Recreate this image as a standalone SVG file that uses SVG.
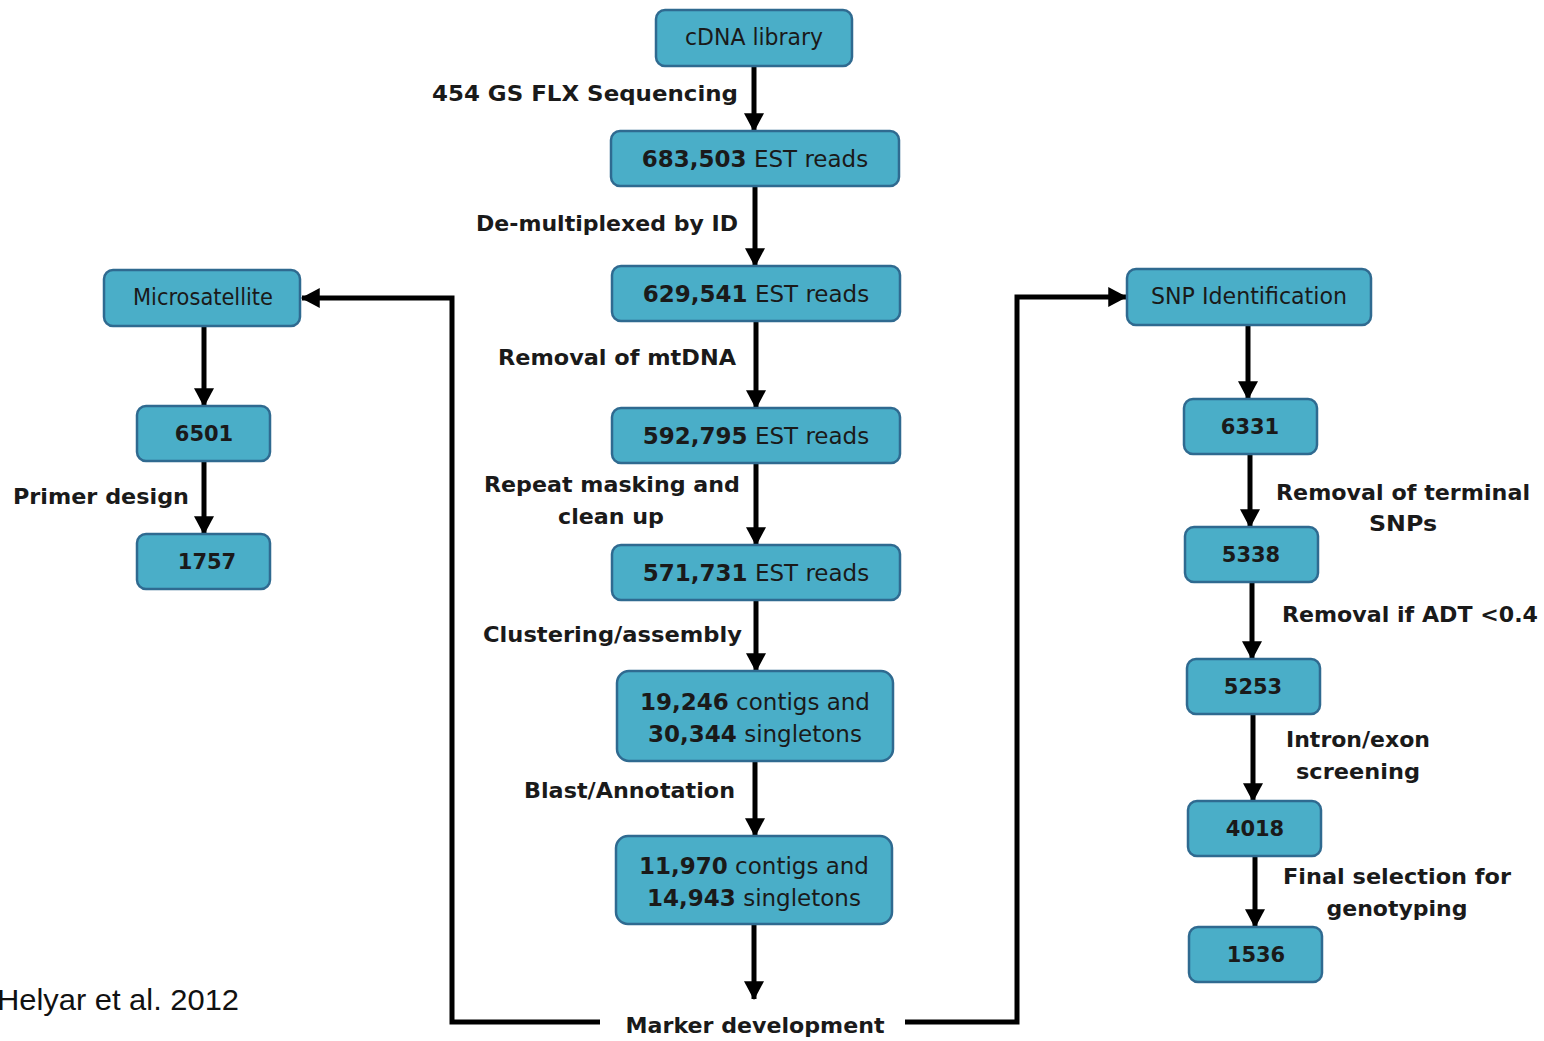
<svg xmlns="http://www.w3.org/2000/svg" width="1544" height="1041" viewBox="0 0 1544 1041">
<style>
.box{fill:#4aaec8;stroke:#2f6a90;stroke-width:2.5}
.bt{font-family:"DejaVu Sans",Verdana,sans-serif;font-size:23px;fill:#1a1a1a;text-anchor:middle}
.b{font-weight:bold}
.num{font-size:21px}
.lbl{font-family:"DejaVu Sans",Verdana,sans-serif;font-size:22px;font-weight:bold;fill:#1a1a1a}
.conn{fill:none;stroke:#000;stroke-width:5}
</style>
<defs>
<marker id="ah" markerUnits="userSpaceOnUse" markerWidth="20" markerHeight="20" refX="16" refY="9" orient="auto" viewBox="0 0 18 18">
<path d="M0,0 L17,9 L0,18 Z" fill="#000"/>
</marker>
</defs>
<rect width="1544" height="1041" fill="#fff"/>
<g id="connectors">
<path class="conn" d="M754,66 V131" marker-end="url(#ah)"/>
<path class="conn" d="M755,186 V266" marker-end="url(#ah)"/>
<path class="conn" d="M756,321 V408" marker-end="url(#ah)"/>
<path class="conn" d="M756,463 V545" marker-end="url(#ah)"/>
<path class="conn" d="M756,600 V671" marker-end="url(#ah)"/>
<path class="conn" d="M755,761 V836" marker-end="url(#ah)"/>
<path class="conn" d="M754,924 V999" marker-end="url(#ah)"/>
<path class="conn" d="M204,326 V406" marker-end="url(#ah)"/>
<path class="conn" d="M204,461 V534" marker-end="url(#ah)"/>
<path class="conn" d="M1248,325 V399" marker-end="url(#ah)"/>
<path class="conn" d="M1250,454 V527" marker-end="url(#ah)"/>
<path class="conn" d="M1252,582 V659" marker-end="url(#ah)"/>
<path class="conn" d="M1253,714 V801" marker-end="url(#ah)"/>
<path class="conn" d="M1255,856 V927" marker-end="url(#ah)"/>
<path class="conn" d="M600,1022 H452 V298 H302" marker-end="url(#ah)"/>
<path class="conn" d="M905,1022 H1017 V297 H1126" marker-end="url(#ah)"/>
</g>
<g id="n-cdna"><rect class="box" x="656" y="10" width="196" height="56" rx="9"/><text class="bt" x="754" y="45" font-size="22" textLength="138" lengthAdjust="spacingAndGlyphs">cDNA library</text></g>
<g id="n-683"><rect class="box" x="611" y="131" width="288" height="55" rx="9"/><text class="bt" x="755" y="167"><tspan class="b">683,503</tspan> EST reads</text></g>
<g id="n-629"><rect class="box" x="612" y="266" width="288" height="55" rx="9"/><text class="bt" x="756" y="302"><tspan class="b">629,541</tspan> EST reads</text></g>
<g id="n-592"><rect class="box" x="612" y="408" width="288" height="55" rx="9"/><text class="bt" x="756" y="444"><tspan class="b">592,795</tspan> EST reads</text></g>
<g id="n-571"><rect class="box" x="612" y="545" width="288" height="55" rx="9"/><text class="bt" x="756" y="581"><tspan class="b">571,731</tspan> EST reads</text></g>
<g id="n-19246"><rect class="box" x="617" y="671" width="276" height="90" rx="12"/><text class="bt" x="755" y="710"><tspan class="b">19,246</tspan> contigs and</text><text class="bt" x="755" y="742"><tspan class="b">30,344</tspan> singletons</text></g>
<g id="n-11970"><rect class="box" x="616" y="836" width="276" height="88" rx="12"/><text class="bt" x="754" y="874"><tspan class="b">11,970</tspan> contigs and</text><text class="bt" x="754" y="906"><tspan class="b">14,943</tspan> singletons</text></g>
<g id="n-micro"><rect class="box" x="104" y="270" width="196" height="56" rx="9"/><text class="bt" x="203" y="305" font-size="22" textLength="140" lengthAdjust="spacingAndGlyphs">Microsatellite</text></g>
<g id="n-6501"><rect class="box" x="137" y="406" width="133" height="55" rx="9"/><text class="bt b num" x="204" y="441">6501</text></g>
<g id="n-1757"><rect class="box" x="137" y="534" width="133" height="55" rx="9"/><text class="bt b num" x="207" y="569">1757</text></g>
<g id="n-snp"><rect class="box" x="1127" y="269" width="244" height="56" rx="9"/><text class="bt" x="1249" y="304" font-size="22" textLength="196" lengthAdjust="spacingAndGlyphs">SNP Identification</text></g>
<g id="n-6331"><rect class="box" x="1184" y="399" width="133" height="55" rx="9"/><text class="bt b num" x="1250" y="434">6331</text></g>
<g id="n-5338"><rect class="box" x="1185" y="527" width="133" height="55" rx="9"/><text class="bt b num" x="1251" y="562">5338</text></g>
<g id="n-5253"><rect class="box" x="1187" y="659" width="133" height="55" rx="9"/><text class="bt b num" x="1253" y="694">5253</text></g>
<g id="n-4018"><rect class="box" x="1188" y="801" width="133" height="55" rx="9"/><text class="bt b num" x="1255" y="836">4018</text></g>
<g id="n-1536"><rect class="box" x="1189" y="927" width="133" height="55" rx="9"/><text class="bt b num" x="1256" y="962">1536</text></g>
<g id="n-marker"><text class="lbl" x="755" y="1033" text-anchor="middle" textLength="259" lengthAdjust="spacingAndGlyphs">Marker development</text></g>
<g id="labels">
<text class="lbl" x="738" y="101" text-anchor="end" textLength="306" lengthAdjust="spacingAndGlyphs">454 GS FLX Sequencing</text>
<text class="lbl" x="738" y="231" text-anchor="end" textLength="262" lengthAdjust="spacingAndGlyphs">De-multiplexed by ID</text>
<text class="lbl" x="736" y="365" text-anchor="end" textLength="238" lengthAdjust="spacingAndGlyphs">Removal of mtDNA</text>
<text class="lbl" x="740" y="492" text-anchor="end" textLength="256" lengthAdjust="spacingAndGlyphs">Repeat masking and</text>
<text class="lbl" x="611" y="524" text-anchor="middle" textLength="106" lengthAdjust="spacingAndGlyphs">clean up</text>
<text class="lbl" x="742" y="642" text-anchor="end" textLength="259" lengthAdjust="spacingAndGlyphs">Clustering/assembly</text>
<text class="lbl" x="735" y="798" text-anchor="end" textLength="211" lengthAdjust="spacingAndGlyphs">Blast/Annotation</text>
<text class="lbl" x="189" y="504" text-anchor="end" textLength="176" lengthAdjust="spacingAndGlyphs">Primer design</text>
<text class="lbl" x="1403" y="500" text-anchor="middle" textLength="254" lengthAdjust="spacingAndGlyphs">Removal of terminal</text>
<text class="lbl" x="1403" y="531" text-anchor="middle" textLength="68" lengthAdjust="spacingAndGlyphs">SNPs</text>
<text class="lbl" x="1282" y="622" textLength="256" lengthAdjust="spacingAndGlyphs">Removal if ADT &lt;0.4</text>
<text class="lbl" x="1358" y="747" text-anchor="middle" textLength="144" lengthAdjust="spacingAndGlyphs">Intron/exon</text>
<text class="lbl" x="1358" y="779" text-anchor="middle" textLength="124" lengthAdjust="spacingAndGlyphs">screening</text>
<text class="lbl" x="1397" y="884" text-anchor="middle" textLength="228" lengthAdjust="spacingAndGlyphs">Final selection for</text>
<text class="lbl" x="1397" y="916" text-anchor="middle" textLength="141" lengthAdjust="spacingAndGlyphs">genotyping</text>
<text x="-3" y="1010" font-family="'Liberation Sans',Arial,sans-serif" font-size="30" fill="#111" textLength="242" lengthAdjust="spacingAndGlyphs">Helyar et al. 2012</text>
</g>
</svg>
